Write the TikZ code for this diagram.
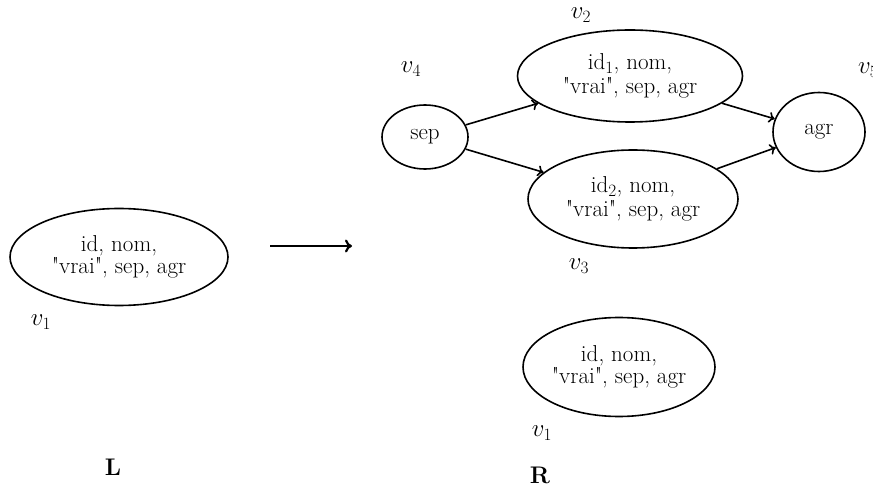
\documentclass[tikz,border=0pt]{standalone}
\usetikzlibrary{shapes.geometric,arrows.meta}
\newcommand{\qq}{\textquotedbl}
\begin{document}
\begin{tikzpicture}[x=1pt,y=-1pt,
 ell/.style={ellipse,draw,line width=1.6pt,inner sep=0pt,align=center,font=\fontsize{23}{22.5}\selectfont},
 lab/.style={font=\fontsize{23}{24}\selectfont,inner sep=0pt},
 big/.style={font=\fontsize{24}{26}\selectfont\bfseries,inner sep=0pt},
 edge/.style={line width=1.6pt,-{To[length=6pt,width=11pt]}}]
\useasboundingbox (0,0) rectangle (873,489);
% left side
\node[ell,minimum width=218,minimum height=97] (L1) at (119,257) {id, nom,\\\qq vrai\qq, sep, agr};
\node[lab] (lv1) at (41,322) {$v_1$};
\node[big] (Ltxt) at (113,467) {L};
% rewrite arrow
\coordinate (a1) at (270,246);
\coordinate (a2) at (352,246);
\draw[line width=2.2pt,-{To[length=7pt,width=13pt]}] (a1) -- (a2);
% right side
\node[ell,minimum width=86,minimum height=64] (sep) at (425,137) {sep};
\node[ell,minimum width=225,minimum height=92] (v2) at (630,76) {id$_1$, nom,\\[2pt]\qq vrai\qq, sep, agr};
\node[ell,minimum width=210,minimum height=98] (v3) at (633,199) {id$_2$, nom,\\[2pt]\qq vrai\qq, sep, agr};
\node[ell,minimum width=92,minimum height=79] (agr) at (819,132) {agr};
\node[ell,minimum width=192,minimum height=99] (R1) at (619,367) {id, nom,\\\qq vrai\qq, sep, agr};
\node[lab] (lv2) at (581,15) {$v_2$};
\node[lab] (lv4) at (411,69) {$v_4$};
\node[lab] (lv3) at (579,266) {$v_3$};
\node[lab,anchor=west] (lv5) at (858,70) {$v_5$};
\node[lab] (lv1r) at (542,433) {$v_1$};
\node[big] (Rtxt) at (540,475) {R};
\draw[edge] (sep) -- (v2);
\draw[edge] (sep) -- (v3);
\draw[edge] (v2) -- (agr);
\draw[edge] (v3) -- (agr);
\end{tikzpicture}
\end{document}
